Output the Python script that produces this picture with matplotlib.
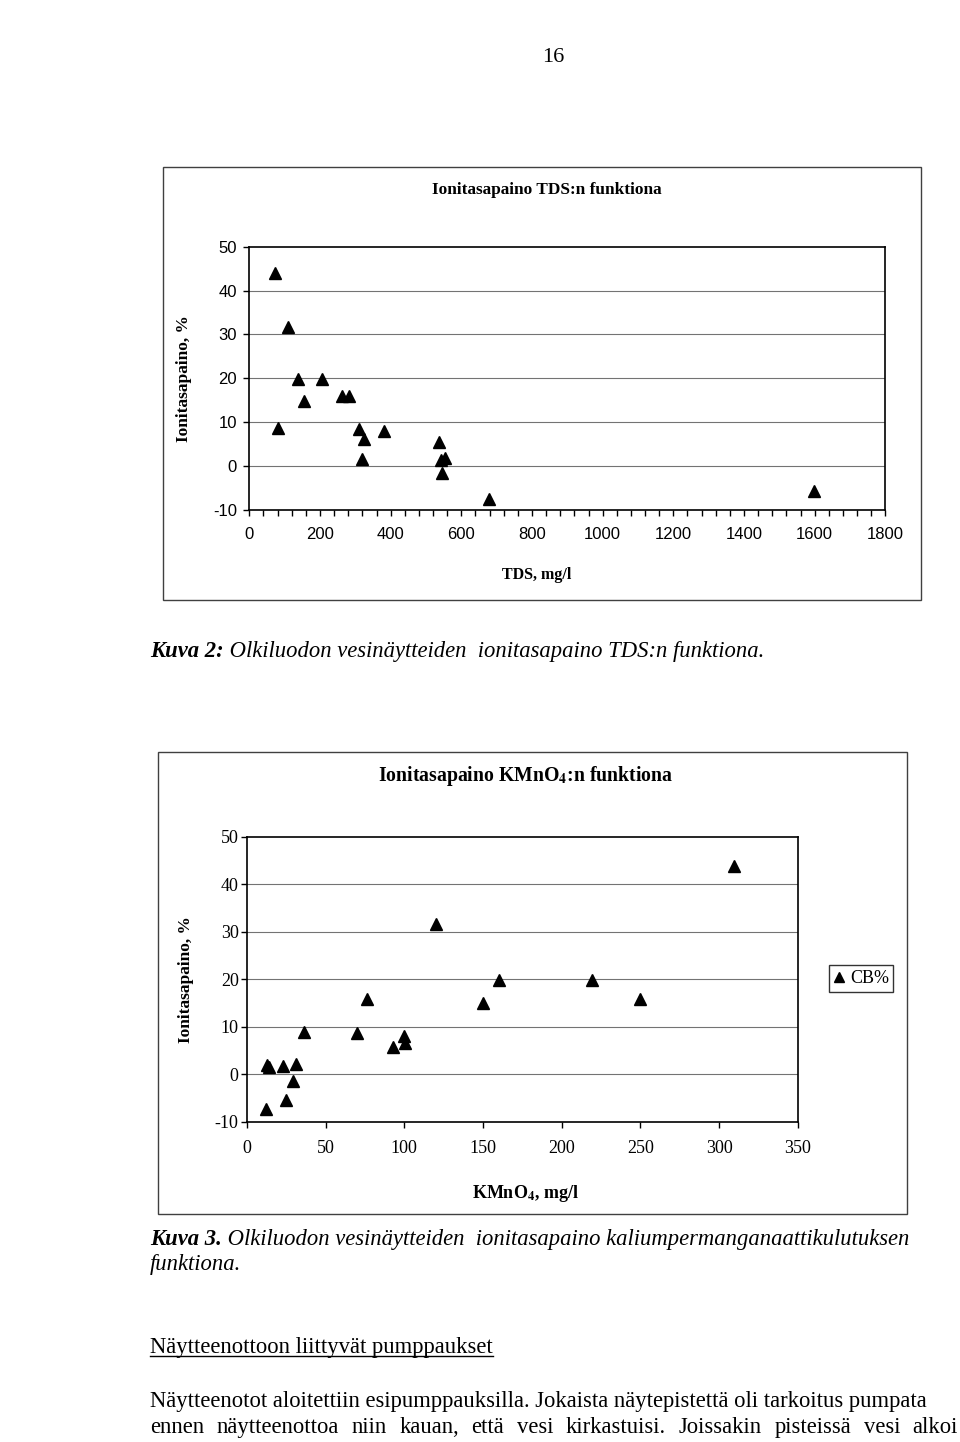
import numpy as np
import matplotlib
matplotlib.use("Agg")
import matplotlib.pyplot as plt
from matplotlib.patches import Rectangle
from matplotlib.lines import Line2D

plt.rcParams['font.family'] = ['Liberation Serif', 'DejaVu Serif']
plt.rcParams['mathtext.fontset'] = 'stix'
plt.rcParams['axes.unicode_minus'] = False

# Kuva 2: ionitasapaino TDS:n funktiona
tds = [73, 109, 80, 139, 155, 207, 261, 282, 311, 325, 318, 381,
       536, 543, 555, 545, 678, 1599]
cb_tds = [43.9, 31.8, 8.7, 19.9, 14.9, 19.9, 16.0, 16.0, 8.5, 6.2, 1.7, 8.1,
          5.6, 1.4, 1.9, -1.6, -7.6, -5.6]

# Kuva 3: ionitasapaino KMnO4:n funktiona
kmno4 = [12, 12.5, 14, 23, 31, 29, 25, 36, 70, 76, 93, 100, 100.5,
         120, 150, 160, 219.5, 249.5, 309.5]
cb_kmno4 = [-7.4, 1.9, 1.6, 1.8, 2.2, -1.4, -5.4, 8.8, 8.6, 15.8, 5.8, 8.0, 6.5,
            31.6, 15.0, 19.9, 19.9, 15.8, 43.8]

y_ticks = [-10, 0, 10, 20, 30, 40, 50]
W, H = 960, 1442
FS = 16.3

fig = plt.figure(figsize=(W / 100, H / 100), dpi=100)


def px(x, y):
    return x / W, 1 - y / H


def axes_px(l, t, r, b):
    return fig.add_axes([l / W, 1 - b / H, (r - l) / W, (b - t) / H])


def frame(l, t, r, b):
    fig.patches.append(Rectangle((l / W, 1 - b / H), (r - l) / W, (b - t) / H,
                                 transform=fig.transFigure, fill=False,
                                 edgecolor='0.25', lw=1.0))


def style_axes(ax):
    for s in ax.spines.values():
        s.set_color('black')
        s.set_linewidth(1.2)
    ax.set_ylim(-10, 50)
    ax.set_yticks(y_ticks)
    for v in y_ticks[1:-1]:
        ax.axhline(v, color='0.45', lw=0.8, zorder=0)


# ---------- chart 1 ----------
frame(163, 167, 921, 600)
ax1 = axes_px(249.3, 246.7, 885.3, 510)
style_axes(ax1)
ax1.plot(tds, cb_tds, linestyle='none', marker='^', ms=9, color='black', zorder=3)
ax1.set_xlim(0, 1800)
ax1.set_xticks(np.arange(0, 1801, 200))
ax1.set_xticks(np.arange(0, 1801, 40), minor=True)
ax1.tick_params(axis='x', which='both', direction='out', length=4, width=1,
                labelsize=12, pad=8)
ax1.tick_params(axis='y', direction='out', length=4, width=1, labelsize=12, pad=5)
for lab in ax1.get_xticklabels() + ax1.get_yticklabels():
    lab.set_family('Liberation Sans')
ax1.set_xlabel('TDS, mg/l', fontsize=11.5, fontweight='bold')
ax1.xaxis.set_label_coords(0.452, -0.215)
ax1.set_ylabel('Ionitasapaino, %', fontsize=12.5, fontweight='bold')
ax1.yaxis.set_label_coords(-0.09, 0.5)
fig.text(*px(547, 190), 'Ionitasapaino TDS:n funktiona', ha='center', va='center',
         fontsize=12.4, fontweight='bold')

# ---------- chart 2 ----------
frame(158, 752, 907, 1214)
ax2 = axes_px(247, 836.7, 797.7, 1121.7)
style_axes(ax2)
ax2.plot(kmno4, cb_kmno4, linestyle='none', marker='^', ms=9, color='black',
         zorder=3, label='CB%')
ax2.set_xlim(0, 350)
ax2.set_xticks(np.arange(0, 351, 50))
ax2.tick_params(axis='x', direction='out', length=4, width=1, labelsize=13, pad=9)
ax2.tick_params(axis='y', direction='out', length=4, width=1, labelsize=13, pad=2)
ax2.set_xlabel('KMnO$_{\\mathbf{4}}$, mg/l', fontsize=13, fontweight='bold')
ax2.xaxis.set_label_coords(0.505, -0.215)
ax2.set_ylabel('Ionitasapaino, %', fontsize=12.5, fontweight='bold')
ax2.yaxis.set_label_coords(-0.097, 0.5)
fig.text(*px(526, 776), 'Ionitasapaino KMnO$_{\\mathbf{4}}$:n funktiona', ha='center',
         va='center', fontsize=14.2, fontweight='bold')
leg = ax2.legend(loc='center left', bbox_to_anchor=px(829, 978.5),
                 bbox_transform=fig.transFigure, frameon=True, fancybox=False,
                 fontsize=13, handlelength=0.6, handletextpad=0.3,
                 borderpad=0.25, borderaxespad=0, markerscale=0.8)
leg.get_frame().set_edgecolor('black')
leg.get_frame().set_linewidth(1.0)

# ---------- page text ----------
fig.text(*px(553, 57), '16', ha='center', va='center', fontsize=16)

cap_parts = [
    (657, 'Kuva 2:', ' Olkiluodon vesinäytteiden  ionitasapaino TDS:n funktiona.'),
    (1245, 'Kuva 3.', ' Olkiluodon vesinäytteiden  ionitasapaino kaliumpermanganaattikulutuksen'),
]
cap_pairs = []
for y, bold, rest in cap_parts:
    tb = fig.text(*px(150, y), bold, ha='left', va='baseline', fontsize=FS,
                  fontweight='bold', style='italic')
    tr = fig.text(*px(150, y), rest, ha='left', va='baseline', fontsize=FS,
                  style='italic')
    cap_pairs.append((tb, tr))
fig.text(*px(150, 1270), 'funktiona.', ha='left', va='baseline', fontsize=FS,
         style='italic')

head = fig.text(*px(150, 1347), 'Näytteenottoon liittyvät pumppaukset', ha='left',
                va='center', fontsize=FS)
fig.text(*px(150, 1402), 'Näytteenotot aloitettiin esipumppauksilla. Jokaista näytepistettä '
         'oli tarkoitus pumpata', ha='left', va='center', fontsize=FS)

# justified second line
words = 'ennen näytteenottoa niin kauan, että vesi kirkastuisi. Joissakin pisteissä vesi alkoi'.split()
wtexts = [fig.text(0, px(0, 1433)[1], w, ha='left', va='baseline', fontsize=FS)
          for w in words]
fig.canvas.draw()
r = fig.canvas.get_renderer()
widths = [wt.get_window_extent(r).width for wt in wtexts]
gap = (958 - 150 - sum(widths)) / (len(words) - 1)
xpos = 150
for wt, w in zip(wtexts, widths):
    wt.set_x(xpos / W)
    xpos += w + gap

for tb, tr in cap_pairs:
    tr.set_x(tb.get_window_extent(r).x1 / W)

bb = head.get_window_extent(r)
fig.add_artist(Line2D([bb.x0 / W, bb.x1 / W], [(bb.y0 + 2) / H, (bb.y0 + 2) / H],
                      transform=fig.transFigure, color='black', lw=1))

fig.savefig('out.png', dpi=100)
